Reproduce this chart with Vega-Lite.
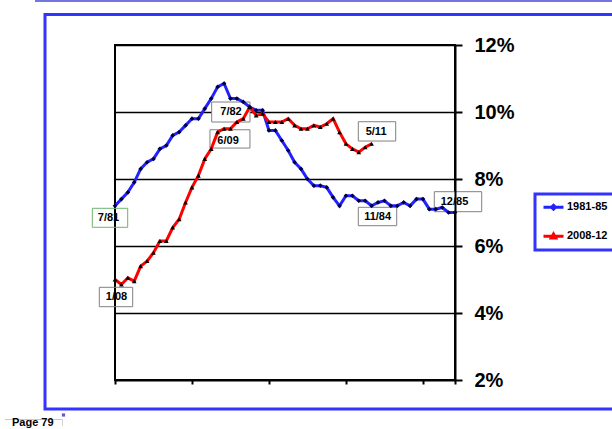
{
  "$schema": "https://vega.github.io/schema/vega-lite/v6.json",
  "width": 340,
  "height": 335,
  "autosize": {"type": "none"},
  "padding": {"left": 115, "top": 45, "right": 157, "bottom": 49},
  "background": "#ffffff",
  "title": {
    "text": "Page 79",
    "orient": "bottom",
    "anchor": "start",
    "frame": "group",
    "font": "Liberation Sans",
    "fontSize": 11,
    "fontWeight": "bold",
    "color": "#000000",
    "baseline": "alphabetic",
    "dx": -103,
    "offset": -1
  },
  "datasets": {
    "unemployment": [
      {"series": "1981-85", "month": 0, "date": "7/81", "rate": 7.2},
      {"series": "1981-85", "month": 1, "date": "8/81", "rate": 7.4},
      {"series": "1981-85", "month": 2, "date": "9/81", "rate": 7.6},
      {"series": "1981-85", "month": 3, "date": "10/81", "rate": 7.9},
      {"series": "1981-85", "month": 4, "date": "11/81", "rate": 8.3},
      {"series": "1981-85", "month": 5, "date": "12/81", "rate": 8.5},
      {"series": "1981-85", "month": 6, "date": "1/82", "rate": 8.6},
      {"series": "1981-85", "month": 7, "date": "2/82", "rate": 8.9},
      {"series": "1981-85", "month": 8, "date": "3/82", "rate": 9.0},
      {"series": "1981-85", "month": 9, "date": "4/82", "rate": 9.3},
      {"series": "1981-85", "month": 10, "date": "5/82", "rate": 9.4},
      {"series": "1981-85", "month": 11, "date": "6/82", "rate": 9.6},
      {"series": "1981-85", "month": 12, "date": "7/82", "rate": 9.8},
      {"series": "1981-85", "month": 13, "date": "8/82", "rate": 9.8},
      {"series": "1981-85", "month": 14, "date": "9/82", "rate": 10.1},
      {"series": "1981-85", "month": 15, "date": "10/82", "rate": 10.4},
      {"series": "1981-85", "month": 16, "date": "11/82", "rate": 10.75},
      {"series": "1981-85", "month": 17, "date": "12/82", "rate": 10.85},
      {"series": "1981-85", "month": 18, "date": "1/83", "rate": 10.4},
      {"series": "1981-85", "month": 19, "date": "2/83", "rate": 10.4},
      {"series": "1981-85", "month": 20, "date": "3/83", "rate": 10.3},
      {"series": "1981-85", "month": 21, "date": "4/83", "rate": 10.15},
      {"series": "1981-85", "month": 22, "date": "5/83", "rate": 10.05},
      {"series": "1981-85", "month": 23, "date": "6/83", "rate": 10.05},
      {"series": "1981-85", "month": 24, "date": "7/83", "rate": 9.45},
      {"series": "1981-85", "month": 25, "date": "8/83", "rate": 9.45},
      {"series": "1981-85", "month": 26, "date": "9/83", "rate": 9.15},
      {"series": "1981-85", "month": 27, "date": "10/83", "rate": 8.85},
      {"series": "1981-85", "month": 28, "date": "11/83", "rate": 8.5},
      {"series": "1981-85", "month": 29, "date": "12/83", "rate": 8.3},
      {"series": "1981-85", "month": 30, "date": "1/84", "rate": 8.0},
      {"series": "1981-85", "month": 31, "date": "2/84", "rate": 7.8},
      {"series": "1981-85", "month": 32, "date": "3/84", "rate": 7.8},
      {"series": "1981-85", "month": 33, "date": "4/84", "rate": 7.75},
      {"series": "1981-85", "month": 34, "date": "5/84", "rate": 7.45},
      {"series": "1981-85", "month": 35, "date": "6/84", "rate": 7.2},
      {"series": "1981-85", "month": 36, "date": "7/84", "rate": 7.5},
      {"series": "1981-85", "month": 37, "date": "8/84", "rate": 7.5},
      {"series": "1981-85", "month": 38, "date": "9/84", "rate": 7.35},
      {"series": "1981-85", "month": 39, "date": "10/84", "rate": 7.35},
      {"series": "1981-85", "month": 40, "date": "11/84", "rate": 7.2},
      {"series": "1981-85", "month": 41, "date": "12/84", "rate": 7.3},
      {"series": "1981-85", "month": 42, "date": "1/85", "rate": 7.35},
      {"series": "1981-85", "month": 43, "date": "2/85", "rate": 7.2},
      {"series": "1981-85", "month": 44, "date": "3/85", "rate": 7.2},
      {"series": "1981-85", "month": 45, "date": "4/85", "rate": 7.3},
      {"series": "1981-85", "month": 46, "date": "5/85", "rate": 7.2},
      {"series": "1981-85", "month": 47, "date": "6/85", "rate": 7.4},
      {"series": "1981-85", "month": 48, "date": "7/85", "rate": 7.4},
      {"series": "1981-85", "month": 49, "date": "8/85", "rate": 7.1},
      {"series": "1981-85", "month": 50, "date": "9/85", "rate": 7.1},
      {"series": "1981-85", "month": 51, "date": "10/85", "rate": 7.15},
      {"series": "1981-85", "month": 52, "date": "11/85", "rate": 7.0},
      {"series": "1981-85", "month": 53, "date": "12/85", "rate": 7.0},
      {"series": "2008-12", "month": 0, "date": "1/08", "rate": 5.0},
      {"series": "2008-12", "month": 1, "date": "2/08", "rate": 4.85},
      {"series": "2008-12", "month": 2, "date": "3/08", "rate": 5.05},
      {"series": "2008-12", "month": 3, "date": "4/08", "rate": 4.95},
      {"series": "2008-12", "month": 4, "date": "5/08", "rate": 5.4},
      {"series": "2008-12", "month": 5, "date": "6/08", "rate": 5.55},
      {"series": "2008-12", "month": 6, "date": "7/08", "rate": 5.8},
      {"series": "2008-12", "month": 7, "date": "8/08", "rate": 6.15},
      {"series": "2008-12", "month": 8, "date": "9/08", "rate": 6.15},
      {"series": "2008-12", "month": 9, "date": "10/08", "rate": 6.55},
      {"series": "2008-12", "month": 10, "date": "11/08", "rate": 6.8},
      {"series": "2008-12", "month": 11, "date": "12/08", "rate": 7.3},
      {"series": "2008-12", "month": 12, "date": "1/09", "rate": 7.75},
      {"series": "2008-12", "month": 13, "date": "2/09", "rate": 8.1},
      {"series": "2008-12", "month": 14, "date": "3/09", "rate": 8.6},
      {"series": "2008-12", "month": 15, "date": "4/09", "rate": 8.9},
      {"series": "2008-12", "month": 16, "date": "5/09", "rate": 9.4},
      {"series": "2008-12", "month": 17, "date": "6/09", "rate": 9.5},
      {"series": "2008-12", "month": 18, "date": "7/09", "rate": 9.5},
      {"series": "2008-12", "month": 19, "date": "8/09", "rate": 9.7},
      {"series": "2008-12", "month": 20, "date": "9/09", "rate": 9.8},
      {"series": "2008-12", "month": 21, "date": "10/09", "rate": 10.15},
      {"series": "2008-12", "month": 22, "date": "11/09", "rate": 9.9},
      {"series": "2008-12", "month": 23, "date": "12/09", "rate": 9.95},
      {"series": "2008-12", "month": 24, "date": "1/10", "rate": 9.7},
      {"series": "2008-12", "month": 25, "date": "2/10", "rate": 9.7},
      {"series": "2008-12", "month": 26, "date": "3/10", "rate": 9.7},
      {"series": "2008-12", "month": 27, "date": "4/10", "rate": 9.8},
      {"series": "2008-12", "month": 28, "date": "5/10", "rate": 9.6},
      {"series": "2008-12", "month": 29, "date": "6/10", "rate": 9.5},
      {"series": "2008-12", "month": 30, "date": "7/10", "rate": 9.5},
      {"series": "2008-12", "month": 31, "date": "8/10", "rate": 9.6},
      {"series": "2008-12", "month": 32, "date": "9/10", "rate": 9.55},
      {"series": "2008-12", "month": 33, "date": "10/10", "rate": 9.65},
      {"series": "2008-12", "month": 34, "date": "11/10", "rate": 9.8},
      {"series": "2008-12", "month": 35, "date": "12/10", "rate": 9.4},
      {"series": "2008-12", "month": 36, "date": "1/11", "rate": 9.05},
      {"series": "2008-12", "month": 37, "date": "2/11", "rate": 8.9},
      {"series": "2008-12", "month": 38, "date": "3/11", "rate": 8.8},
      {"series": "2008-12", "month": 39, "date": "4/11", "rate": 8.95},
      {"series": "2008-12", "month": 40, "date": "5/11", "rate": 9.05}
    ]
  },
  "data": {"name": "unemployment"},
  "resolve": {"axis": {"x": "independent", "y": "independent"}},
  "layer": [
    {
      "data": {"values": [{"part": "page rule"}]},
      "mark": {"type": "rule", "stroke": "#7575e0", "strokeWidth": 2, "clip": false},
      "encoding": {
        "x": {"datum": -12.47, "type": "quantitative", "scale": {"domain": [0, 53], "nice": false, "zero": false}, "axis": null},
        "x2": {"datum": 78.7},
        "y": {"datum": 13.31, "type": "quantitative", "scale": {"domain": [2, 12], "nice": false, "zero": false}, "axis": null}
      }
    },
    {
      "data": {"values": [{"part": "footer rule"}]},
      "mark": {"type": "rule", "stroke": "#c4c4ee", "strokeWidth": 1, "clip": false},
      "encoding": {
        "x": {"datum": -17.15, "type": "quantitative", "axis": null},
        "x2": {"datum": -8.26},
        "y": {"datum": 0.821, "type": "quantitative", "axis": null}
      }
    },
    {
      "data": {"values": [{"part": "footer divider"}]},
      "mark": {"type": "rule", "stroke": "#d6d6d6", "strokeWidth": 1, "clip": false},
      "encoding": {
        "x": {"datum": -8.18, "type": "quantitative", "axis": null},
        "y": {"datum": 0.836, "type": "quantitative", "axis": null},
        "y2": {"datum": 0.62}
      }
    },
    {
      "data": {"values": [{"part": "footer marker"}]},
      "mark": {"type": "point", "shape": "square", "filled": true, "size": 10, "color": "#5a5ad8", "opacity": 1, "clip": false},
      "encoding": {
        "x": {"datum": -8.03, "type": "quantitative", "axis": null},
        "y": {"datum": 0.955, "type": "quantitative", "axis": null}
      }
    },
    {
      "data": {"values": [{"part": "frame"}]},
      "mark": {"type": "rect", "filled": false, "stroke": "#3333ff", "strokeWidth": 3, "clip": false},
      "encoding": {
        "x": {"datum": -10.91, "type": "quantitative", "axis": null},
        "x2": {"datum": 78.7},
        "y": {"datum": 12.91, "type": "quantitative", "axis": null},
        "y2": {"datum": 1.134}
      }
    },
    {
      "transform": [{"filter": "datum.date === '7/81'"}],
      "mark": {"type": "rect", "filled": false, "stroke": "#6db36d", "strokeWidth": 1, "xOffset": -22.7, "x2Offset": 12.7, "yOffset": 2.5, "y2Offset": 21.5},
      "encoding": {
        "x": {"field": "month", "type": "quantitative", "axis": null},
        "x2": {"field": "month"},
        "y": {
          "field": "rate", "type": "quantitative",
          "axis": {"orient": "left", "grid": true, "domain": false, "ticks": false, "labels": false, "title": null, "values": [4, 6, 8, 10, 12], "gridColor": "#000000", "gridWidth": 1.5, "gridOpacity": 1, "zindex": 0}
        },
        "y2": {"field": "rate"}
      }
    },
    {
      "transform": [{"filter": "datum.date === '1/08'"}],
      "mark": {"type": "rect", "filled": false, "stroke": "#808080", "strokeWidth": 1, "xOffset": -15.7, "x2Offset": 17.7, "yOffset": 7.8, "y2Offset": 27.2},
      "encoding": {
        "x": {"field": "month", "type": "quantitative", "axis": null}, "x2": {"field": "month"},
        "y": {"field": "rate", "type": "quantitative", "axis": null}, "y2": {"field": "rate"}
      }
    },
    {
      "transform": [{"filter": "datum.date === '7/82'"}],
      "mark": {"type": "rect", "fill": "#ffffff", "stroke": "#808080", "strokeWidth": 1, "xOffset": 19.7, "x2Offset": 58, "yOffset": -16.7, "y2Offset": 3.3},
      "encoding": {
        "x": {"field": "month", "type": "quantitative", "axis": null}, "x2": {"field": "month"},
        "y": {"field": "rate", "type": "quantitative", "axis": null}, "y2": {"field": "rate"}
      }
    },
    {
      "transform": [{"filter": "datum.date === '6/09'"}],
      "mark": {"type": "rect", "fill": "#ffffff", "stroke": "#808080", "strokeWidth": 1, "xOffset": -14.1, "x2Offset": 25.9, "yOffset": 1, "y2Offset": 19.3},
      "encoding": {
        "x": {"field": "month", "type": "quantitative", "axis": null}, "x2": {"field": "month"},
        "y": {"field": "rate", "type": "quantitative", "axis": null}, "y2": {"field": "rate"}
      }
    },
    {
      "transform": [{"filter": "datum.date === '5/11'"}],
      "mark": {"type": "rect", "fill": "#ffffff", "stroke": "#808080", "strokeWidth": 1, "xOffset": -13.3, "x2Offset": 24.1, "yOffset": -22.1, "y2Offset": -2.8},
      "encoding": {
        "x": {"field": "month", "type": "quantitative", "axis": null}, "x2": {"field": "month"},
        "y": {"field": "rate", "type": "quantitative", "axis": null}, "y2": {"field": "rate"}
      }
    },
    {
      "transform": [{"filter": "datum.date === '11/84'"}],
      "mark": {"type": "rect", "fill": "#ffffff", "stroke": "#808080", "strokeWidth": 1, "xOffset": -13.3, "x2Offset": 25.1, "yOffset": 1.5, "y2Offset": 19.9},
      "encoding": {
        "x": {"field": "month", "type": "quantitative", "axis": null}, "x2": {"field": "month"},
        "y": {"field": "rate", "type": "quantitative", "axis": null}, "y2": {"field": "rate"}
      }
    },
    {
      "transform": [{"filter": "datum.date === '12/85'"}],
      "mark": {"type": "rect", "fill": "#ffffff", "stroke": "#808080", "strokeWidth": 1, "xOffset": -20.7, "x2Offset": 26.7, "yOffset": -20.8, "y2Offset": -0.8},
      "encoding": {
        "x": {"field": "month", "type": "quantitative", "axis": null}, "x2": {"field": "month"},
        "y": {"field": "rate", "type": "quantitative", "axis": null}, "y2": {"field": "rate"}
      }
    },
    {
      "mark": {"type": "line", "strokeWidth": 3, "clip": false},
      "encoding": {
        "x": {
          "field": "month", "type": "quantitative",
          "axis": {"orient": "bottom", "values": [0, 12, 24, 36, 48, 53], "labels": false, "grid": false, "title": null, "domain": true, "domainColor": "#000000", "domainWidth": 2, "ticks": true, "tickColor": "#000000", "tickWidth": 2, "tickSize": 4, "tickOpacity": 1, "zindex": 1}
        },
        "y": {
          "field": "rate", "type": "quantitative",
          "axis": {"orient": "right", "grid": false, "title": null, "values": [2, 4, 6, 8, 10, 12], "labelExpr": "datum.value + '%'", "domainColor": "#000000", "domainWidth": 2, "tickColor": "#000000", "tickWidth": 2, "tickSize": 7, "labelFont": "Liberation Sans", "labelFontSize": 20, "labelFontWeight": "bold", "labelColor": "#000000", "labelPadding": 12, "zindex": 1}
        },
        "color": {
          "field": "series", "type": "nominal",
          "scale": {"domain": ["1981-85", "2008-12"], "range": ["#2222ff", "#ff0000"]},
          "legend": {
            "orient": "none", "legendX": 420, "legendY": 149, "title": null,
            "padding": 7, "rowPadding": 16, "symbolSize": 400, "clipHeight": 12.5,
            "symbolStrokeWidth": 3, "labelFont": "Liberation Sans", "labelFontSize": 11,
            "labelFontWeight": "bold", "labelColor": "#000000", "labelOffset": 2,
            "strokeColor": "#3333ff", "fillColor": "#ffffff",
            "encode": {
              "legend": {"update": {"strokeWidth": {"value": 3}}},
              "symbols": {"update": {
                "shape": {"signal": "datum.value === '1981-85' ? 'M-1,0H1M0,-0.2L0.2,0L0,0.2L-0.2,0Z' : 'M-1,0H1M-0.22,0.18L0,-0.22L0.22,0.18Z'"},
                "fill": {"value": "#000033"}
              }}
            }
          }
        }
      }
    },
    {
      "transform": [{"filter": "datum.series === '1981-85'"}],
      "mark": {"type": "point", "shape": "diamond", "filled": true, "size": 22, "color": "#000040", "opacity": 1, "clip": false},
      "encoding": {
        "x": {"field": "month", "type": "quantitative", "axis": null},
        "y": {"field": "rate", "type": "quantitative", "axis": null}
      }
    },
    {
      "transform": [{"filter": "datum.series === '2008-12'"}],
      "mark": {"type": "point", "shape": "triangle-up", "filled": true, "size": 22, "color": "#000000", "opacity": 1, "clip": false},
      "encoding": {
        "x": {"field": "month", "type": "quantitative", "axis": null},
        "y": {"field": "rate", "type": "quantitative", "axis": null}
      }
    },
    {
      "transform": [{"filter": "datum.date === '7/81'"}],
      "mark": {"type": "text", "font": "Liberation Sans", "fontSize": 11, "fontWeight": "bold", "color": "#000000", "align": "center", "baseline": "middle", "dx": -6.5, "dy": 12.5},
      "encoding": {
        "x": {"field": "month", "type": "quantitative", "axis": null},
        "y": {"field": "rate", "type": "quantitative", "axis": null},
        "text": {"field": "date"}
      }
    },
    {
      "transform": [{"filter": "datum.date === '1/08'"}],
      "mark": {"type": "text", "font": "Liberation Sans", "fontSize": 11, "fontWeight": "bold", "color": "#000000", "align": "center", "baseline": "middle", "dx": 1.5, "dy": 17.8},
      "encoding": {
        "x": {"field": "month", "type": "quantitative", "axis": null},
        "y": {"field": "rate", "type": "quantitative", "axis": null},
        "text": {"field": "date"}
      }
    },
    {
      "transform": [{"filter": "datum.date === '7/82'"}],
      "mark": {"type": "text", "font": "Liberation Sans", "fontSize": 11, "fontWeight": "bold", "color": "#000000", "align": "center", "baseline": "middle", "dx": 39, "dy": -6.4},
      "encoding": {
        "x": {"field": "month", "type": "quantitative", "axis": null},
        "y": {"field": "rate", "type": "quantitative", "axis": null},
        "text": {"field": "date"}
      }
    },
    {
      "transform": [{"filter": "datum.date === '6/09'"}],
      "mark": {"type": "text", "font": "Liberation Sans", "fontSize": 11, "fontWeight": "bold", "color": "#000000", "align": "center", "baseline": "middle", "dx": 4, "dy": 12},
      "encoding": {
        "x": {"field": "month", "type": "quantitative", "axis": null},
        "y": {"field": "rate", "type": "quantitative", "axis": null},
        "text": {"field": "date"}
      }
    },
    {
      "transform": [{"filter": "datum.date === '5/11'"}],
      "mark": {"type": "text", "font": "Liberation Sans", "fontSize": 11, "fontWeight": "bold", "color": "#000000", "align": "center", "baseline": "middle", "dx": 4.5, "dy": -12.1},
      "encoding": {
        "x": {"field": "month", "type": "quantitative", "axis": null},
        "y": {"field": "rate", "type": "quantitative", "axis": null},
        "text": {"field": "date"}
      }
    },
    {
      "transform": [{"filter": "datum.date === '11/84'"}],
      "mark": {"type": "text", "font": "Liberation Sans", "fontSize": 11, "fontWeight": "bold", "color": "#000000", "align": "center", "baseline": "middle", "dx": 6, "dy": 10.9},
      "encoding": {
        "x": {"field": "month", "type": "quantitative", "axis": null},
        "y": {"field": "rate", "type": "quantitative", "axis": null},
        "text": {"field": "date"}
      }
    },
    {
      "transform": [{"filter": "datum.date === '12/85'"}],
      "mark": {"type": "text", "font": "Liberation Sans", "fontSize": 11, "fontWeight": "bold", "color": "#000000", "align": "center", "baseline": "middle", "dx": -0.5, "dy": -10.5},
      "encoding": {
        "x": {"field": "month", "type": "quantitative", "axis": null},
        "y": {"field": "rate", "type": "quantitative", "axis": null},
        "text": {"field": "date"}
      }
    }
  ],
  "config": {
    "view": {"stroke": "#000000", "strokeWidth": 2},
    "font": "Liberation Sans"
  }
}
